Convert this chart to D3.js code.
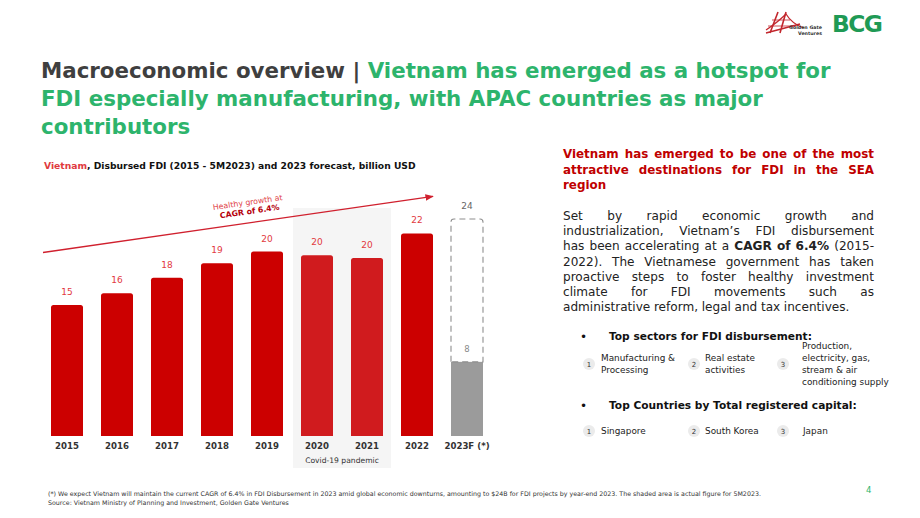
<!DOCTYPE html>
<html><head><meta charset="utf-8">
<script src="https://cdn.jsdelivr.net/npm/d3@7"></script>
<style>
body{margin:0;background:#fff}
svg{display:block}
text{font-family:"DejaVu Sans","Open Sans",sans-serif}
</style>
</head><body>
<svg id="c" width="920" height="518"></svg>
<script>
// ---------- data ----------
const years = ["2015","2016","2017","2018","2019","2020","2021","2022","2023F (*)"];
const disbursed = [14.5,15.8,17.5,19.1,20.4,20.0,19.7,22.4,null];
const forecastValue = 24;      // 2023F full-year forecast
const actual5M2023 = 8.2;      // shaded actual 5M2023
const covidYears = ["2020","2021"];
const sectors = [["Manufacturing &","Processing"],["Real estate","activities"],["Production,","electricity, gas,","stream & air","conditioning supply"]];
const countries = ["Singapore","South Korea","Japan"];

const svg = d3.select("#c");
const RED = "#CC0000", GREEN = "#2DB46C", DARK = "#3F3F3F";

function fit(sel, target){
  const w = sel.node().getComputedTextLength();
  const fs = parseFloat(sel.attr("font-size"));
  sel.attr("font-size", fs*target/w);
  return fs*target/w;
}

// ---------- logos ----------
const logo = svg.append("g");
const gg = "#C2272D";
logo.append("path").attr("d","M766,30 Q778,22 786,14 Q792,24 804,28").attr("fill","none").attr("stroke",gg).attr("stroke-width",1.2);
logo.append("path").attr("d","M770,33 L778,12 M780,33 L786,12 M766,33 L800,24").attr("fill","none").attr("stroke",gg).attr("stroke-width",1.6);
logo.append("path").attr("d","M768,26 L796,26 M772,20 L790,20").attr("fill","none").attr("stroke",gg).attr("stroke-width",0.8);
const g1 = logo.append("text").attr("x",789).attr("y",29).attr("font-size",5.6).attr("font-weight",700).attr("fill","#333").text("Golden Gate");
fit(g1, 33);
const g2 = logo.append("text").attr("x",798).attr("y",35).attr("font-size",5.6).attr("font-weight",700).attr("fill","#333").text("Ventures");
fit(g2, 24);
const bcg = logo.append("text").attr("x",832).attr("y",32).attr("font-size",26).attr("font-weight",800).attr("fill","#1F9A55").attr("letter-spacing",-1.5).text("BCG");
fit(bcg, 50);

// ---------- title ----------
const titleLines = [
  [["Macroeconomic overview | ",DARK],["Vietnam has emerged as a hotspot for",GREEN]],
  [["FDI especially manufacturing, with APAC countries as major",GREEN]],
  [["contributors",GREEN]]
];
const titleY = [78,106,134];
let tfs = 24;
titleLines.forEach((line,i)=>{
  const t = svg.append("text").attr("x",41).attr("y",titleY[i]).attr("font-size",tfs).attr("font-weight",700);
  line.forEach(s=>t.append("tspan").attr("fill",s[1]).text(s[0]));
  if(i===0) tfs = fit(t, 790); else t.attr("font-size",tfs);
});

// ---------- chart subtitle ----------
const sub = svg.append("text").attr("x",44).attr("y",169).attr("font-size",10).attr("font-weight",700).attr("fill","#111");
sub.append("tspan").attr("fill","#E03A3E").text("Vietnam");
sub.append("tspan").text(", Disbursed FDI (2015 - 5M2023) and 2023 forecast, billion USD");
fit(sub, 372);

// ---------- scales ----------
const x = d3.scaleBand().domain(years).range([42,492]).paddingInner(0.36).paddingOuter(0.18);
const y = d3.scaleLinear().domain([0,forecastValue]).range([436,219]);
const bw = x.bandwidth();

// covid shading
const cx0 = x(covidYears[0]) - 8, cx1 = x(covidYears[1]) + bw + 8;
svg.append("rect").attr("x",cx0).attr("y",208).attr("width",cx1-cx0).attr("height",260).attr("fill","#F5F5F5");
svg.append("text").attr("x",(cx0+cx1)/2).attr("y",463).attr("text-anchor","middle").attr("font-size",7.6).attr("fill","#333").text("Covid-19 pandemic");

// bars
const bars = years.map((yr,i)=>({yr, v:disbursed[i]})).filter(d=>d.v!==null);
svg.append("g").selectAll("path").data(bars).join("path")
  .attr("fill", d=>covidYears.includes(d.yr) ? "#D01B1E" : RED)
  .attr("d", d=>{
    const x0=x(d.yr), y0=y(d.v), h=y(0)-y0, r=2.5;
    return `M${x0},${y0+h}V${y0+r}Q${x0},${y0} ${x0+r},${y0}H${x0+bw-r}Q${x0+bw},${y0} ${x0+bw},${y0+r}V${y0+h}Z`;
  });
const fmt = d3.format(".0f");
svg.append("g").selectAll("text").data(bars).join("text")
  .attr("x", d=>x(d.yr)+bw/2).attr("y", d=>y(d.v)-10)
  .attr("text-anchor","middle").attr("font-size",9).attr("fill","#E2393E")
  .text(d=>fmt(d.v));

// forecast bar
const fy = years[years.length-1];
svg.append("rect").attr("x",x(fy)).attr("y",y(actual5M2023)).attr("width",bw).attr("height",y(0)-y(actual5M2023)).attr("fill","#9B9B9B");
svg.append("path")
  .attr("d",()=>{const x0=x(fy),y0=y(forecastValue),y1=y(actual5M2023),r=3;
    return `M${x0},${y1}V${y0+r}Q${x0},${y0} ${x0+r},${y0}H${x0+bw-r}Q${x0+bw},${y0} ${x0+bw},${y0+r}V${y1}H${x0}`;})
  .attr("fill","none").attr("stroke","#8E8E8E").attr("stroke-width",1.1).attr("stroke-dasharray","6,4");
svg.append("text").attr("x",x(fy)+bw/2).attr("y",y(forecastValue)-10).attr("text-anchor","middle").attr("font-size",9).attr("fill","#666").text(fmt(forecastValue));
svg.append("text").attr("x",x(fy)+bw/2).attr("y",y(actual5M2023)-10).attr("text-anchor","middle").attr("font-size",8.5).attr("fill","#888").text(fmt(actual5M2023));

// x axis
const xa = svg.append("g").attr("transform",`translate(0,${y(0)})`).call(d3.axisBottom(x).tickSize(0).tickPadding(7));
xa.select(".domain").remove();
xa.selectAll("text").attr("font-size",8.6).attr("font-weight",600).attr("fill","#333").attr("font-family","DejaVu Sans, sans-serif");

// growth arrow
const ax0 = x(years[0]) - 8, ay0 = y(20.3), ax1 = x(fy) - 18, ay1 = y(26.5);
svg.append("defs").append("marker").attr("id","ah").attr("viewBox","0 0 10 10").attr("refX",9).attr("refY",5)
  .attr("markerWidth",6).attr("markerHeight",6).attr("orient","auto")
  .append("path").attr("d","M0,1L10,5L0,9Z").attr("fill","#D0202E");
svg.append("line").attr("x1",ax0).attr("y1",ay0).attr("x2",ax1).attr("y2",ay1)
  .attr("stroke","#D0202E").attr("stroke-width",1.4).attr("marker-end","url(#ah)");
const ang = Math.atan2(ay1-ay0, ax1-ax0)*180/Math.PI;
svg.append("text").attr("transform",`translate(248,205) rotate(${ang})`).attr("text-anchor","middle")
  .attr("font-size",7.8).attr("fill","#E04248").text("Healthy growth at");
svg.append("text").attr("transform",`translate(250,214) rotate(${ang})`).attr("text-anchor","middle")
  .attr("font-size",7.8).attr("font-weight",700).attr("fill","#B5000A").text("CAGR of 6.4%");

// ---------- right panel ----------
const RX = 563, RW = 311;
function justify(segs, yy, fs, weight, fill, doJ){
  const words=[]; segs.forEach(s=>s[0].split(" ").filter(Boolean).forEach(w=>words.push({w,b:s[1]})));
  const t = svg.append("text").attr("y",yy).attr("font-size",fs).attr("fill",fill);
  const sp = words.map(d=>t.append("tspan").attr("font-weight",d.b?700:weight).text(d.w));
  const ws = sp.map(s=>s.node().getComputedTextLength());
  const gap = doJ ? (RW - d3.sum(ws))/(words.length-1) : fs*0.3;
  let xx = RX; sp.forEach((s,i)=>{s.attr("x",xx); xx += ws[i]+gap;});
}
function natural(segs, fs, weight){
  const t = svg.append("text").attr("font-size",fs).attr("xml:space","preserve");
  segs.forEach(s=>t.append("tspan").attr("font-weight",s[1]?700:weight).text(s[0]));
  const w = t.node().getComputedTextLength(); t.remove(); return w;
}
const head = ["Vietnam has emerged to be one of the most","attractive destinations for FDI in the SEA","region"];
const hfs = 11 * 296 / natural([[head[0],false]],11,700);
head.forEach((l,i)=>justify([[l,false]],158+i*15.5,hfs,700,"#C00000",i<2));

const para = [
  [["Set by rapid economic growth and",false]],
  [["industrialization, Vietnam’s FDI disbursement",false]],
  [["has been accelerating at a ",false],["CAGR of 6.4%",true],[" (2015-",false]],
  [["2022). The Vietnamese government has taken",false]],
  [["proactive steps to foster healthy investment",false]],
  [["climate for FDI movements such as",false]],
  [["administrative reform, legal and tax incentives.",false]]
];
const pfs = d3.min(para, l => 12 * 302 / natural(l,12,400));
para.forEach((l,i)=>justify(l,220+i*15.2,pfs,400,"#222",i<6));

// bullets
function bulletHead(txt, yy, w){
  svg.append("text").attr("x",580).attr("y",yy+1).attr("font-size",12).attr("fill","#111").text("•");
  const t = svg.append("text").attr("x",609).attr("y",yy).attr("font-size",11).attr("font-weight",700).attr("fill","#111").text(txt);
  fit(t,w);
}
bulletHead("Top sectors for FDI disbursement:",340,203);
bulletHead("Top Countries by Total registered capital:",409,248);

const numX = [589,694,783], txtX = [601,705,802];
function badge(i, cy){
  svg.append("circle").attr("cx",numX[i]).attr("cy",cy).attr("r",6).attr("fill","#EBEBEB");
  svg.append("text").attr("x",numX[i]).attr("y",cy+2.5).attr("text-anchor","middle").attr("font-size",7).attr("fill","#333").text(i+1);
}
sectors.forEach((lines,i)=>{
  badge(i,364);
  const start = 364 - (lines.length-1)*12/2 + 3;
  lines.forEach((l,j)=>svg.append("text").attr("x",txtX[i]).attr("y",start+j*12).attr("font-size",8.9).attr("fill","#222").text(l));
});
countries.forEach((c,i)=>{
  badge(i,431);
  svg.append("text").attr("x",txtX[i]+(i===2?1:0)).attr("y",434).attr("font-size",8.9).attr("fill","#222").text(c);
});

// ---------- footnote ----------
const f1 = svg.append("text").attr("x",48).attr("y",496).attr("font-size",6.5).attr("fill","#333")
  .text("(*) We expect Vietnam will maintain the current CAGR of 6.4% in FDI Disbursement in 2023 amid global economic downturns, amounting to $24B for FDI projects by year-end 2023. The shaded area is actual figure for 5M2023.");
const ffs = fit(f1, 715);
svg.append("text").attr("x",48).attr("y",504.5).attr("font-size",ffs).attr("fill","#333")
  .text("Source: Vietnam Ministry of Planning and Investment, Golden Gate Ventures");
svg.append("text").attr("x",866).attr("y",493).attr("font-size",8.5).attr("fill",GREEN).text("4");
</script>
</body></html>
